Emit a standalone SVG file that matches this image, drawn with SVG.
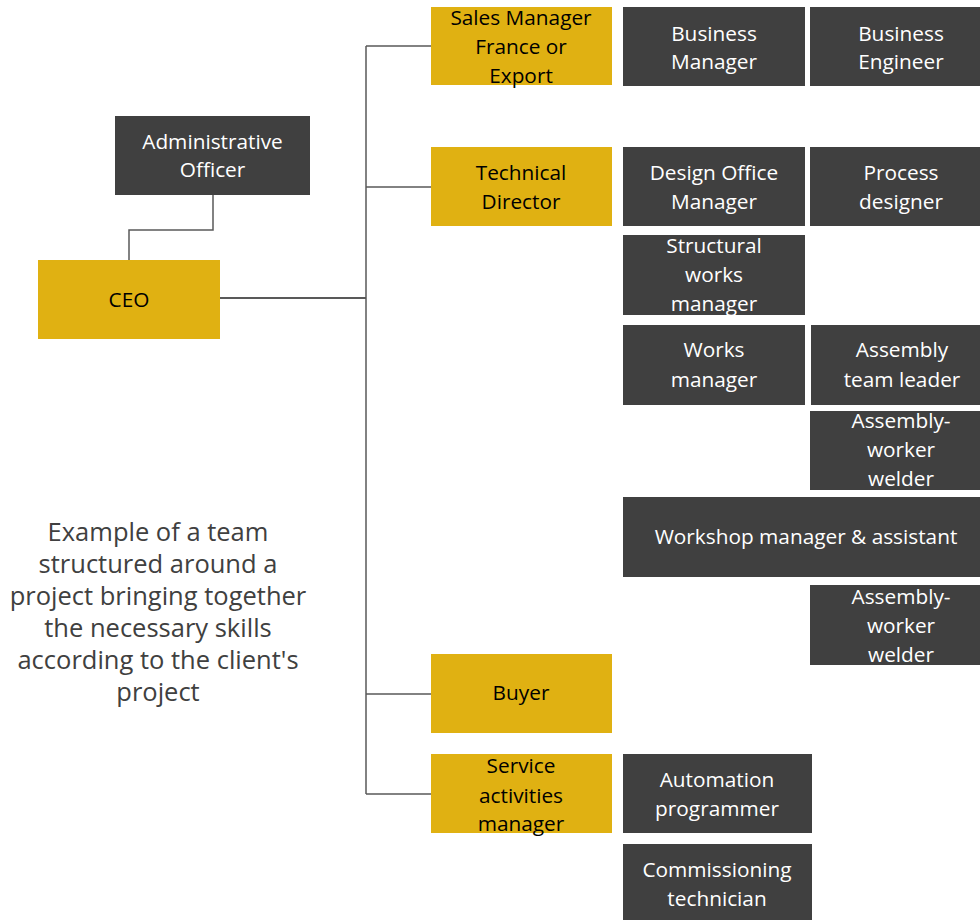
<svg xmlns="http://www.w3.org/2000/svg" width="980" height="920" viewBox="0 0 980 920">
<style>
.g{fill:#E0B112}
.d{fill:#404040}
.tb{font-family:"Open Sans","Liberation Sans",sans-serif;font-size:20.8px;fill:#000;text-anchor:middle}
.tw{font-family:"Open Sans","Liberation Sans",sans-serif;font-size:20.8px;fill:#fff;text-anchor:middle}
.cap{font-family:"Open Sans","Liberation Sans",sans-serif;font-size:25.5px;fill:#404040;text-anchor:middle}
.c{fill:none;stroke:#595959;stroke-width:1.5}
</style>
<rect width="980" height="920" fill="#fff"/>
<g id="connectors">
<polyline class="c" points="213,195 213,230 129,230 129,260"/>
<line class="c" x1="220" y1="298" x2="366" y2="298" style="stroke-width:2"/>
<line class="c" x1="366" y1="46" x2="366" y2="794"/>
<line class="c" x1="366" y1="46" x2="431" y2="46"/>
<line class="c" x1="366" y1="187" x2="431" y2="187"/>
<line class="c" x1="366" y1="694" x2="431" y2="694"/>
<line class="c" x1="366" y1="794" x2="431" y2="794"/>
</g>
<g id="admin"><rect class="d" x="115" y="116" width="195" height="79"/><text class="tw" x="212.5" y="149">Administrative</text><text class="tw" x="212.5" y="177">Officer</text></g>
<g id="ceo"><rect class="g" x="38" y="260" width="182" height="79"/><text class="tb" x="129" y="307">CEO</text></g>
<g id="sales"><rect class="g" x="431" y="7" width="181" height="78"/><text class="tb" x="521" y="25">Sales Manager</text><text class="tb" x="521" y="54">France or</text><text class="tb" x="521" y="83">Export</text></g>
<g id="techdir"><rect class="g" x="431" y="147" width="181" height="79"/><text class="tb" x="521" y="180">Technical</text><text class="tb" x="521" y="209">Director</text></g>
<g id="buyer"><rect class="g" x="431" y="654" width="181" height="79"/><text class="tb" x="521" y="700">Buyer</text></g>
<g id="service"><rect class="g" x="431" y="754" width="181" height="79"/><text class="tb" x="521" y="773">Service</text><text class="tb" x="521" y="803">activities</text><text class="tb" x="521" y="831">manager</text></g>
<g id="bizmgr"><rect class="d" x="623" y="7" width="182" height="79"/><text class="tw" x="714" y="41">Business</text><text class="tw" x="714" y="69">Manager</text></g>
<g id="bizeng"><rect class="d" x="810" y="7" width="170" height="79"/><text class="tw" x="901" y="41">Business</text><text class="tw" x="901" y="69">Engineer</text></g>
<g id="designoffice"><rect class="d" x="623" y="147" width="182" height="79"/><text class="tw" x="714" y="180">Design Office</text><text class="tw" x="714" y="209">Manager</text></g>
<g id="process"><rect class="d" x="810" y="147" width="170" height="79"/><text class="tw" x="901" y="180">Process</text><text class="tw" x="901" y="209">designer</text></g>
<g id="structural"><rect class="d" x="623" y="235" width="182" height="80"/><text class="tw" x="714" y="253">Structural</text><text class="tw" x="714" y="282">works</text><text class="tw" x="714" y="311">manager</text></g>
<g id="works"><rect class="d" x="623" y="325" width="182" height="80"/><text class="tw" x="714" y="357">Works</text><text class="tw" x="714" y="387">manager</text></g>
<g id="teamleader"><rect class="d" x="811" y="325" width="169" height="80"/><text class="tw" x="902" y="357">Assembly</text><text class="tw" x="902" y="387">team leader</text></g>
<g id="welder1"><rect class="d" x="810" y="411" width="170" height="79"/><text class="tw" x="901" y="428">Assembly-</text><text class="tw" x="901" y="457">worker</text><text class="tw" x="901" y="486">welder</text></g>
<g id="workshop"><rect class="d" x="623" y="497" width="357" height="80"/><text class="tw" x="806" y="544">Workshop manager &amp; assistant</text></g>
<g id="welder2"><rect class="d" x="810" y="585" width="170" height="80"/><text class="tw" x="901" y="604">Assembly-</text><text class="tw" x="901" y="633">worker</text><text class="tw" x="901" y="662">welder</text></g>
<g id="automation"><rect class="d" x="623" y="754" width="189" height="79"/><text class="tw" x="717" y="787">Automation</text><text class="tw" x="717" y="816">programmer</text></g>
<g id="commissioning"><rect class="d" x="623" y="844" width="189" height="76"/><text class="tw" x="717" y="877">Commissioning</text><text class="tw" x="717" y="906">technician</text></g>
<g id="caption">
<text class="cap" x="158" y="541">Example of a team</text>
<text class="cap" x="158" y="573">structured around a</text>
<text class="cap" x="158" y="605">project bringing together</text>
<text class="cap" x="158" y="637">the necessary skills</text>
<text class="cap" x="158" y="669">according to the client's</text>
<text class="cap" x="158" y="701">project</text>
</g>
</svg>
